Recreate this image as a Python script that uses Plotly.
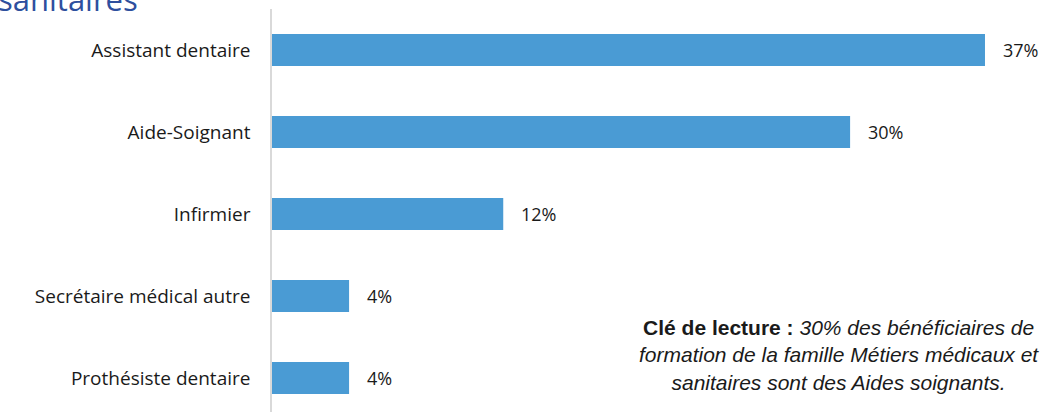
import plotly.graph_objects as go

# Formations in the "Métiers médicaux et sanitaires" family (share of beneficiaries, %)
categories = [
    "Assistant dentaire",
    "Aide-Soignant",
    "Infirmier",
    "Secrétaire médical autre",
    "Prothésiste dentaire",
]
shares = [37, 30, 12, 4, 4]
labels = [f"{v}%" for v in shares]

BAR_COLOR = "#4A9BD4"
FONT = "Open Sans"

fig = go.Figure(
    go.Bar(
        x=shares,
        y=categories,
        orientation="h",
        marker=dict(color=BAR_COLOR, line=dict(width=0)),
        hoverinfo="skip",
    )
)

# Value labels to the right of each bar
for cat, val, lab in zip(categories, shares, labels):
    fig.add_annotation(
        x=val, y=cat, xref="x", yref="y",
        text=lab, showarrow=False,
        xanchor="left", yanchor="middle", xshift=16,
        font=dict(family=FONT, size=18, color="#1a1a1a"),
    )

# Reading key
fig.add_annotation(
    x=0.731, y=0.141, xref="paper", yref="paper",
    text=("<b>Clé de lecture :</b> <i>30% des bénéficiaires de</i><br>"
          "<i>formation de la famille Métiers médicaux et</i><br>"
          "<i>sanitaires sont des Aides soignants.</i>"),
    showarrow=False, align="center", xanchor="center", yanchor="middle",
    font=dict(family="Liberation Sans", size=21, color="#1a1a1a"),
)

# Title (second line visible at the top edge)
fig.add_annotation(
    x=-0.356, y=1, xref="paper", yref="paper",
    xanchor="left", yanchor="bottom", yshift=-13,
    text="sanitaires", showarrow=False,
    font=dict(family=FONT, size=31, color="#2E4F9E"),
)

fig.update_layout(
    width=1048, height=412,
    margin=dict(l=272, r=0, t=9, b=0),
    paper_bgcolor="white", plot_bgcolor="white",
    bargap=0.61,
    showlegend=False,
    xaxis=dict(range=[0, 40.27], visible=False, fixedrange=True),
    yaxis=dict(
        categoryorder="array", categoryarray=categories,
        range=[4.415, -0.5],
        showline=True, linecolor="#D9D9D9", linewidth=1.5,
        showgrid=False, zeroline=False,
        ticks="", ticklabelstandoff=16,
        tickfont=dict(family=FONT, size=19, color="#1a1a1a"),
    ),
)

fig.write_html("out.html")
